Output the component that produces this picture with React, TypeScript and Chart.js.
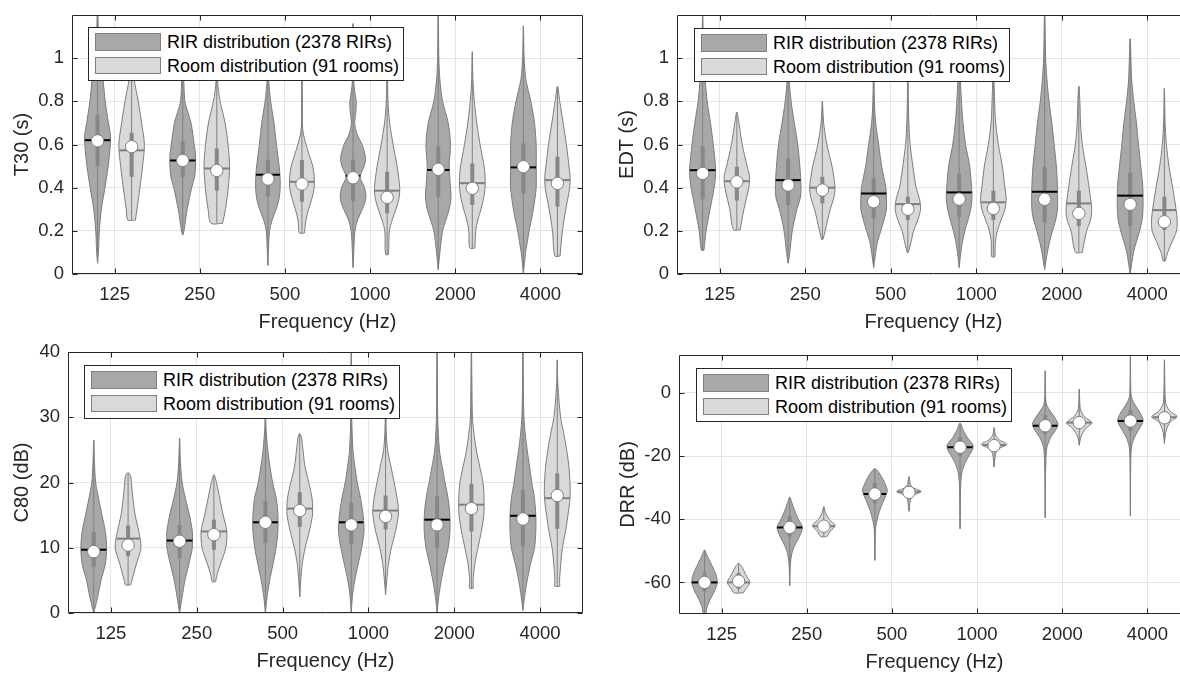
import React, { useEffect, useRef } from 'react';
import { Chart, registerables } from 'chart.js';

Chart.register(...registerables);

const FONT = "'Liberation Sans', Arial, Helvetica, sans-serif";

// ---------------- data ----------------
const freqLabels = ['125', '250', '500', '1000', '2000', '4000'];
const freqPositions = [1, 2, 3, 4, 5, 6];
const seriesLabels = ['RIR distribution (2378 RIRs)', 'Room distribution (91 rooms)'];

// Violin shapes: [value, relative half-width] from bottom to top
// ---- T30 ----
const t30Ticks = [0, 0.2, 0.4, 0.6, 0.8, 1];
const t30RirShapes = [
  [[0.05, 0], [0.1, 0.07], [0.2, 0.14], [0.3, 0.3], [0.4, 0.58], [0.5, 0.83], [0.6, 1.0], [0.65, 1.0], [0.7, 0.85], [0.8, 0.6], [0.9, 0.43], [1.0, 0.2], [1.1, 0.08], [1.25, 0]],
  [[0.18, 0], [0.2, 0.1], [0.25, 0.22], [0.3, 0.35], [0.4, 0.7], [0.45, 0.93], [0.5, 1.0], [0.55, 1.0], [0.6, 0.9], [0.7, 0.65], [0.75, 0.4], [0.8, 0.17], [0.9, 0.08], [1.0, 0]],
  [[0.04, 0], [0.1, 0.04], [0.2, 0.13], [0.25, 0.33], [0.3, 0.65], [0.35, 0.88], [0.4, 0.96], [0.45, 0.95], [0.5, 0.88], [0.6, 0.67], [0.7, 0.48], [0.8, 0.22], [0.9, 0.06], [1.0, 0]],
  [[0.03, 0], [0.1, 0.05], [0.2, 0.15], [0.25, 0.35], [0.3, 0.73], [0.35, 1.0], [0.4, 0.9], [0.45, 0.55], [0.5, 0.88], [0.54, 0.97], [0.6, 0.7], [0.65, 0.3], [0.7, 0.13], [0.75, 0.22], [0.8, 0.25], [0.85, 0.12], [0.9, 0.05], [1.16, 0]],
  [[0.02, 0], [0.1, 0.13], [0.2, 0.34], [0.25, 0.6], [0.3, 0.86], [0.35, 1.0], [0.4, 0.96], [0.5, 0.86], [0.6, 0.96], [0.7, 0.78], [0.8, 0.34], [0.9, 0.13], [1.0, 0.05], [1.25, 0]],
  [[0.0, 0], [0.1, 0.17], [0.15, 0.31], [0.2, 0.45], [0.3, 0.78], [0.4, 1.0], [0.5, 1.0], [0.6, 1.0], [0.7, 0.87], [0.8, 0.58], [0.9, 0.2], [1.0, 0.06], [1.15, 0]],
];
const t30RirMedian = [0.617, 0.526, 0.44, 0.446, 0.485, 0.497];
const t30RirMean = [0.62, 0.526, 0.46, 0.455, 0.482, 0.494];
const t30RirQ1 = [0.5, 0.448, 0.358, 0.338, 0.358, 0.373];
const t30RirQ3 = [0.736, 0.613, 0.53, 0.531, 0.59, 0.605];
const t30RoomShapes = [
  [[0.25, 0.3], [0.3, 0.42], [0.4, 0.65], [0.5, 0.86], [0.6, 1.0], [0.7, 0.78], [0.8, 0.52], [0.9, 0.2], [1.0, 0]],
  [[0.235, 0.45], [0.3, 0.68], [0.4, 0.9], [0.5, 1.0], [0.6, 0.88], [0.7, 0.65], [0.8, 0.26], [0.85, 0.13], [0.9, 0.05], [1.0, 0]],
  [[0.19, 0.2], [0.25, 0.31], [0.3, 0.52], [0.35, 0.78], [0.4, 0.96], [0.45, 0.96], [0.5, 0.84], [0.6, 0.32], [0.67, 0.06], [0.8, 0.03], [0.95, 0]],
  [[0.09, 0.12], [0.2, 0.18], [0.25, 0.4], [0.3, 0.69], [0.35, 0.93], [0.4, 0.99], [0.5, 0.78], [0.6, 0.47], [0.7, 0.2], [0.8, 0.07], [1.0, 0]],
  [[0.12, 0.2], [0.2, 0.27], [0.25, 0.43], [0.3, 0.68], [0.35, 0.88], [0.4, 1.0], [0.45, 1.0], [0.5, 0.92], [0.6, 0.61], [0.7, 0.35], [0.8, 0.16], [0.9, 0.05], [1.03, 0]],
  [[0.083, 0.2], [0.2, 0.39], [0.3, 0.65], [0.4, 0.96], [0.45, 0.99], [0.5, 0.9], [0.6, 0.7], [0.7, 0.44], [0.8, 0.18], [0.87, 0]],
];
const t30RoomMedian = [0.59, 0.48, 0.417, 0.355, 0.397, 0.42];
const t30RoomMean = [0.573, 0.489, 0.427, 0.386, 0.421, 0.435];
const t30RoomQ1 = [0.45, 0.386, 0.335, 0.281, 0.32, 0.312];
const t30RoomQ3 = [0.654, 0.582, 0.528, 0.474, 0.512, 0.543];

// ---- EDT ----
const edtTicks = [0, 0.2, 0.4, 0.6, 0.8, 1];
const edtRirShapes = [
  [[0.11, 0.1], [0.2, 0.27], [0.3, 0.58], [0.4, 0.9], [0.45, 1.0], [0.5, 1.0], [0.6, 0.83], [0.7, 0.61], [0.8, 0.35], [0.9, 0.2], [1.0, 0.08], [1.2, 0]],
  [[0.05, 0], [0.1, 0.13], [0.2, 0.32], [0.3, 0.68], [0.35, 0.94], [0.4, 1.0], [0.5, 0.91], [0.6, 0.75], [0.7, 0.48], [0.8, 0.23], [0.9, 0.08], [1.05, 0]],
  [[0.03, 0], [0.1, 0.16], [0.15, 0.3], [0.2, 0.56], [0.25, 0.8], [0.3, 1.0], [0.35, 1.0], [0.4, 0.95], [0.5, 0.62], [0.6, 0.39], [0.7, 0.16], [0.8, 0.06], [1.05, 0]],
  [[0.03, 0], [0.1, 0.13], [0.15, 0.26], [0.2, 0.45], [0.25, 0.69], [0.3, 0.9], [0.35, 1.0], [0.4, 0.97], [0.5, 0.82], [0.6, 0.5], [0.7, 0.3], [0.8, 0.18], [0.9, 0.1], [1.1, 0]],
  [[0.02, 0], [0.1, 0.21], [0.15, 0.39], [0.2, 0.61], [0.25, 0.86], [0.3, 1.0], [0.4, 1.0], [0.5, 0.91], [0.6, 0.74], [0.7, 0.56], [0.8, 0.34], [0.9, 0.18], [1.0, 0.08], [1.25, 0]],
  [[0.0, 0], [0.1, 0.26], [0.15, 0.49], [0.2, 0.74], [0.25, 0.93], [0.3, 1.0], [0.4, 0.99], [0.5, 0.83], [0.6, 0.65], [0.7, 0.49], [0.8, 0.28], [0.9, 0.12], [1.09, 0]],
];
const edtRirMedian = [0.466, 0.412, 0.335, 0.347, 0.346, 0.323];
const edtRirMean = [0.481, 0.435, 0.373, 0.378, 0.381, 0.363];
const edtRirQ1 = [0.346, 0.32, 0.258, 0.265, 0.238, 0.222];
const edtRirQ3 = [0.593, 0.535, 0.443, 0.466, 0.497, 0.469];
const edtRoomShapes = [
  [[0.205, 0.26], [0.3, 0.55], [0.4, 0.93], [0.45, 0.99], [0.5, 0.8], [0.6, 0.42], [0.7, 0.16], [0.75, 0]],
  [[0.16, 0.05], [0.2, 0.22], [0.3, 0.61], [0.35, 0.88], [0.4, 0.99], [0.5, 0.75], [0.6, 0.35], [0.7, 0.1], [0.8, 0]],
  [[0.1, 0.04], [0.15, 0.26], [0.2, 0.45], [0.25, 0.78], [0.3, 0.99], [0.35, 0.9], [0.4, 0.65], [0.5, 0.39], [0.6, 0.18], [0.7, 0.08], [0.8, 0.04], [1.0, 0]],
  [[0.08, 0.13], [0.15, 0.16], [0.2, 0.31], [0.25, 0.6], [0.3, 0.9], [0.35, 1.0], [0.4, 0.9], [0.5, 0.7], [0.6, 0.39], [0.7, 0.18], [0.8, 0.1], [0.9, 0.05], [1.0, 0]],
  [[0.1, 0.26], [0.2, 0.61], [0.25, 0.91], [0.3, 1.0], [0.4, 0.8], [0.5, 0.55], [0.6, 0.27], [0.7, 0.13], [0.8, 0.08], [0.87, 0]],
  [[0.06, 0.08], [0.1, 0.26], [0.15, 0.61], [0.2, 0.95], [0.25, 1.0], [0.3, 0.91], [0.4, 0.65], [0.5, 0.36], [0.6, 0.16], [0.7, 0.06], [0.86, 0]],
];
const edtRoomMedian = [0.427, 0.389, 0.3, 0.304, 0.281, 0.242];
const edtRoomMean = [0.43, 0.4, 0.324, 0.332, 0.327, 0.296];
const edtRoomQ1 = [0.34, 0.327, 0.25, 0.25, 0.222, 0.204];
const edtRoomQ3 = [0.497, 0.45, 0.358, 0.386, 0.386, 0.358];

// ---- C80 ----
const c80Ticks = [0, 10, 20, 30, 40];
const c80RirShapes = [
  [[0, 0], [1, 0.13], [2.5, 0.31], [5, 0.56], [7.5, 0.9], [10, 1.0], [12.5, 0.9], [15, 0.64], [17.5, 0.38], [20, 0.15], [23, 0.06], [26.5, 0]],
  [[0, 0], [2.5, 0.2], [5, 0.42], [7.5, 0.72], [10, 0.99], [11, 1.0], [12.5, 0.99], [15, 0.77], [17.5, 0.46], [20, 0.2], [23, 0.07], [26.8, 0]],
  [[0, 0], [2.5, 0.13], [5, 0.33], [7.5, 0.59], [10, 0.83], [12.5, 0.97], [15, 0.97], [17.5, 0.85], [20, 0.56], [22.5, 0.35], [25, 0.18], [28, 0.06], [31, 0]],
  [[0, 0], [2.5, 0.09], [5, 0.27], [7.5, 0.54], [10, 0.81], [12.5, 0.99], [15, 0.92], [17.5, 0.73], [20, 0.47], [22.5, 0.28], [25, 0.13], [30, 0.04], [42, 0]],
  [[0, 0], [2.5, 0.13], [5, 0.33], [7.5, 0.58], [10, 0.86], [12.5, 1.0], [15, 0.99], [17.5, 0.86], [20, 0.62], [22.5, 0.39], [25, 0.18], [30, 0.05], [42, 0]],
  [[0.4, 0], [2.5, 0.13], [5, 0.33], [7.5, 0.59], [10, 0.9], [12.5, 1.0], [15, 1.0], [17.5, 0.9], [20, 0.69], [22.5, 0.51], [25, 0.33], [27.5, 0.18], [30, 0.08], [35, 0.03], [42, 0]],
];
const c80RirMedian = [9.4, 11.0, 13.9, 13.5, 13.5, 14.4];
const c80RirMean = [9.7, 11.1, 13.9, 13.9, 14.3, 14.9];
const c80RirQ1 = [7.0, 8.4, 10.7, 10.5, 9.9, 10.2];
const c80RirQ3 = [12.4, 13.5, 17.1, 16.9, 17.9, 18.9];
const c80RoomShapes = [
  [[4.3, 0.2], [5, 0.3], [7.5, 0.64], [10, 1.0], [12.5, 0.83], [15, 0.55], [17.5, 0.38], [20, 0.26], [21, 0.2], [21.5, 0]],
  [[4.8, 0.13], [6, 0.26], [7.5, 0.51], [10, 0.92], [12.5, 1.0], [15, 0.72], [17.5, 0.46], [20, 0.2], [21.2, 0]],
  [[2.5, 0], [5, 0.08], [7.5, 0.19], [10, 0.42], [12.5, 0.74], [15, 0.99], [16, 1.0], [17.5, 0.96], [20, 0.7], [22.5, 0.4], [25, 0.25], [27, 0.12], [27.5, 0]],
  [[2.8, 0], [5, 0.09], [7.5, 0.22], [10, 0.45], [12.5, 0.77], [15, 0.99], [16, 0.99], [17.5, 0.9], [20, 0.67], [22.5, 0.41], [25, 0.15], [28, 0.05], [33, 0]],
  [[3.8, 0.15], [5, 0.13], [7.5, 0.26], [10, 0.51], [12.5, 0.77], [15, 0.96], [17.5, 0.98], [20, 0.9], [22.5, 0.64], [25, 0.38], [27.5, 0.2], [30, 0.08], [41, 0]],
  [[4.1, 0.2], [5, 0.18], [7.5, 0.27], [10, 0.4], [12.5, 0.64], [15, 0.83], [17.5, 0.99], [20, 0.99], [22.5, 0.9], [25, 0.73], [27.5, 0.51], [30, 0.26], [35, 0.05], [38.8, 0]],
];
const c80RoomMedian = [10.4, 12.0, 15.7, 14.8, 16.0, 18.0];
const c80RoomMean = [11.4, 12.5, 16.0, 15.7, 16.6, 17.6];
const c80RoomQ1 = [8.7, 9.7, 13.2, 12.8, 12.5, 12.9];
const c80RoomQ3 = [13.4, 14.3, 18.5, 18.0, 19.8, 21.4];

// ---- DRR ----
const drrTicks = [-60, -40, -20, 0];
const drrRirShapes = [
  [[-72, 0], [-70, 0.1], [-67.5, 0.22], [-65, 0.49], [-62.5, 0.81], [-60, 1.0], [-57.5, 0.89], [-55, 0.62], [-52.5, 0.32], [-51, 0.15], [-49.7, 0]],
  [[-61, 0], [-55, 0.04], [-52.5, 0.1], [-50, 0.22], [-47.5, 0.49], [-45, 0.81], [-42.5, 0.99], [-40, 0.68], [-37.5, 0.41], [-35, 0.19], [-33, 0]],
  [[-53, 0], [-45, 0.03], [-42, 0.08], [-40, 0.19], [-37.5, 0.35], [-35, 0.59], [-32.5, 0.85], [-31, 0.97], [-30, 0.92], [-27.5, 0.65], [-25, 0.27], [-24, 0]],
  [[-43, 0], [-30, 0.04], [-26, 0.11], [-24, 0.22], [-22, 0.41], [-20, 0.68], [-18, 0.97], [-16.5, 1.0], [-14, 0.54], [-12, 0.27], [-9.6, 0]],
  [[-39.5, 0], [-25, 0.03], [-18, 0.1], [-16, 0.23], [-14, 0.44], [-12, 0.78], [-10, 1.0], [-8, 0.78], [-6, 0.44], [-4, 0.13], [-2, 0.04], [7, 0]],
  [[-39, 0], [-25, 0.02], [-18, 0.06], [-16, 0.15], [-14, 0.33], [-12, 0.6], [-10, 0.9], [-8.5, 1.0], [-6, 0.72], [-4, 0.39], [-2, 0.13], [0, 0.04], [12, 0]],
];
const drrRirMedian = [-60, -42.6, -32, -17.2, -10.4, -8.9];
const drrRirMean = [-60, -42.6, -32, -17.2, -10.4, -8.9];
const drrRirQ1 = [-62.9, -45.5, -35, -20, -13, -12];
const drrRirQ3 = [-56.9, -39, -28.5, -14, -7, -5.5];
const drrRoomShapes = [
  [[-63.3, 0.36], [-62, 0.57], [-60, 0.88], [-57.5, 0.55], [-55, 0.25], [-54, 0]],
  [[-45.5, 0.24], [-44, 0.47], [-42, 0.88], [-40, 0.41], [-38, 0.14], [-36, 0]],
  [[-37.5, 0], [-36, 0.04], [-34, 0.1], [-32.5, 0.3], [-31.2, 0.95], [-30, 0.3], [-29, 0.12], [-27.5, 0.05], [-26.5, 0]],
  [[-23.5, 0], [-20, 0.08], [-18.5, 0.2], [-17.5, 0.45], [-16.3, 1.0], [-15, 0.45], [-14, 0.2], [-13, 0.08], [-11, 0]],
  [[-16.6, 0], [-14, 0.12], [-12.5, 0.3], [-11, 0.56], [-9.5, 1.0], [-8, 0.56], [-7, 0.3], [-5, 0.08], [1.2, 0]],
  [[-16, 0], [-12.5, 0.1], [-10.5, 0.26], [-9, 0.5], [-7.5, 1.0], [-6, 0.5], [-5, 0.3], [-3, 0.08], [10.5, 0]],
];
const drrRoomMedian = [-59.6, -42.2, -31.5, -16.7, -9.4, -7.9];
const drrRoomMean = [-60, -42.2, -31.3, -16.5, -9.4, -7.7];
const drrRoomQ1 = [-62, -43.5, -32, -17.8, -10.5, -8.8];
const drrRoomQ3 = [-57, -40.5, -30.5, -15.5, -8.5, -6.8];

// ---------------- styles ----------------
const RIR_FILL = '#a8a8a8';
const ROOM_FILL = '#d9d9d9';
const EDGE = '#7c7c7c';
const WHISKER = '#808080';
const BOX = '#878787';
const GRID = '#e3e3e3';
const AXIS = '#262626';
const HALF = 0.15; // max half width of a violin (x units)
const OFFSET = 0.2; // violin offset from the frequency position

type Shape = number[][];
interface SeriesDef { shapes: Shape[]; median: number[]; mean: number[]; q1: number[]; q3: number[] }
interface PanelDef {
  yTitle: string; yMin: number; yMax: number; yTicks: number[];
  rir: SeriesDef; room: SeriesDef;
  layout: { left: number; top: number; w: number; h: number; padTop: number; padRight: number; yW: number; yTitlePad: number; legendLeft: number; legendTop: number };
}

const panels: PanelDef[] = [
  {
    yTitle: 'T30 (s)', yMin: 0, yMax: 1.2, yTicks: t30Ticks,
    rir: { shapes: t30RirShapes, median: t30RirMedian, mean: t30RirMean, q1: t30RirQ1, q3: t30RirQ3 },
    room: { shapes: t30RoomShapes, median: t30RoomMedian, mean: t30RoomMean, q1: t30RoomQ1, q3: t30RoomQ3 },
    layout: { left: 0, top: 0, w: 600, h: 334, padTop: 15, padRight: 17, yW: 72, yTitlePad: 10, legendLeft: 88, legendTop: 27 },
  },
  {
    yTitle: 'EDT (s)', yMin: 0, yMax: 1.2, yTicks: edtTicks,
    rir: { shapes: edtRirShapes, median: edtRirMedian, mean: edtRirMean, q1: edtRirQ1, q3: edtRirQ3 },
    room: { shapes: edtRoomShapes, median: edtRoomMedian, mean: edtRoomMean, q1: edtRoomQ1, q3: edtRoomQ3 },
    layout: { left: 600, top: 0, w: 600, h: 334, padTop: 15, padRight: 10, yW: 77, yTitlePad: 15, legendLeft: 694, legendTop: 28 },
  },
  {
    yTitle: 'C80 (dB)', yMin: 0, yMax: 40, yTicks: c80Ticks,
    rir: { shapes: c80RirShapes, median: c80RirMedian, mean: c80RirMean, q1: c80RirQ1, q3: c80RirQ3 },
    room: { shapes: c80RoomShapes, median: c80RoomMedian, mean: c80RoomMean, q1: c80RoomQ1, q3: c80RoomQ3 },
    layout: { left: 0, top: 340, w: 600, h: 333, padTop: 12, padRight: 17, yW: 68, yTitlePad: 10, legendLeft: 84, legendTop: 365 },
  },
  {
    yTitle: 'DRR (dB)', yMin: -70, yMax: 12, yTicks: drrTicks,
    rir: { shapes: drrRirShapes, median: drrRirMedian, mean: drrRirMean, q1: drrRirQ1, q3: drrRirQ3 },
    room: { shapes: drrRoomShapes, median: drrRoomMedian, mean: drrRoomMean, q1: drrRoomQ1, q3: drrRoomQ3 },
    layout: { left: 600, top: 340, w: 600, h: 334, padTop: 15, padRight: 10, yW: 79, yTitlePad: 16, legendLeft: 696, legendTop: 368 },
  },
];

// ---------------- helpers ----------------
function violinPoints(center: number, shape: Shape) {
  const right = shape.map(([v, w]) => ({ x: center + w * HALF, y: v }));
  const leftAll = shape.slice().reverse().map(([v, w]) => ({ x: center - w * HALF, y: v }));
  const topZero = shape[shape.length - 1][1] === 0;
  const botZero = shape[0][1] === 0;
  const pts = [...right, ...(topZero ? leftAll.slice(1) : leftAll)];
  if (!botZero) pts.push(right[0]);
  return pts;
}

function widthAt(shape: Shape, v: number) {
  for (let i = 0; i < shape.length - 1; i++) {
    const [v0, w0] = shape[i];
    const [v1, w1] = shape[i + 1];
    if (v >= v0 && v <= v1) return w0 + ((w1 - w0) * (v - v0)) / (v1 - v0);
  }
  return 0;
}

const boxPlugin = {
  id: 'matlabBox',
  afterDatasetsDraw(chart: any) {
    const { ctx, chartArea: a, scales } = chart;
    const L = 5;
    ctx.save();
    ctx.strokeStyle = AXIS;
    ctx.lineWidth = 1;
    const l = Math.round(a.left) + 0.5, r = Math.round(a.right) - 0.5;
    const t = Math.round(a.top) + 0.5, b = Math.round(a.bottom) - 0.5;
    ctx.beginPath();
    ctx.rect(l, t, r - l, b - t);
    scales.x.ticks.forEach((tk: any) => {
      const px = Math.round(scales.x.getPixelForValue(tk.value)) + 0.5;
      ctx.moveTo(px, b); ctx.lineTo(px, b - L);
      ctx.moveTo(px, t); ctx.lineTo(px, t + L);
    });
    scales.y.ticks.forEach((tk: any) => {
      const py = Math.round(scales.y.getPixelForValue(tk.value)) + 0.5;
      ctx.moveTo(l, py); ctx.lineTo(l + L, py);
      ctx.moveTo(r, py); ctx.lineTo(r - L, py);
    });
    ctx.stroke();
    ctx.restore();
  },
};

function buildConfig(p: PanelDef): any {
  const datasets: any[] = [];
  const series = [
    { def: p.rir, off: -OFFSET, fill: RIR_FILL, meanColor: '#000000' },
    { def: p.room, off: OFFSET, fill: ROOM_FILL, meanColor: '#7f7f7f' },
  ];
  series.forEach((s) => {
    s.def.shapes.forEach((shape, i) => {
      const c = freqPositions[i] + s.off;
      datasets.push({
        data: violinPoints(c, shape), borderColor: EDGE, borderWidth: 1, backgroundColor: s.fill,
        fill: 'shape', tension: 0.3, pointRadius: 0, order: 5,
      });
      datasets.push({
        data: [{ x: c, y: shape[0][0] }, { x: c, y: shape[shape.length - 1][0] }],
        borderColor: WHISKER, borderWidth: 1, pointRadius: 0, fill: false, order: 4,
      });
      datasets.push({
        data: [{ x: c, y: s.def.q1[i] }, { x: c, y: s.def.q3[i] }],
        borderColor: BOX, borderWidth: 4, pointRadius: 0, fill: false, order: 3,
      });
      const w = widthAt(shape, s.def.mean[i]) * HALF;
      datasets.push({
        data: [{ x: c - w, y: s.def.mean[i] }, { x: c + w, y: s.def.mean[i] }],
        borderColor: s.meanColor, borderWidth: 2, pointRadius: 0, fill: false, order: 2,
      });
    });
    datasets.push({
      data: s.def.median.map((m, i) => ({ x: freqPositions[i] + s.off, y: m })),
      showLine: false, pointRadius: 6.2, pointBackgroundColor: '#ffffff', pointBorderColor: '#7f7f7f',
      pointBorderWidth: 1, order: 1,
    });
  });

  const L = p.layout;
  return {
    type: 'line',
    data: { datasets },
    plugins: [boxPlugin],
    options: {
      responsive: false,
      animation: false,
      events: [],
      layout: { padding: { left: 0, top: L.padTop, right: L.padRight, bottom: 0 } },
      plugins: { legend: { display: false }, tooltip: { enabled: false } },
      scales: {
        x: {
          type: 'linear', min: 0.5, max: 6.5,
          afterBuildTicks: (sc: any) => { sc.ticks = freqPositions.map((v) => ({ value: v })); },
          afterFit: (sc: any) => { sc.height = 60; sc.paddingLeft = 0; sc.paddingRight = 0; sc.paddingTop = 0; sc.paddingBottom = 0; },
          ticks: {
            callback: (v: number) => freqLabels[freqPositions.indexOf(Math.round(v))],
            font: { size: 18.5, family: FONT }, color: AXIS, padding: 10, autoSkip: false, maxRotation: 0,
          },
          grid: { color: GRID, drawTicks: false },
          border: { display: false },
          title: { display: true, text: 'Frequency (Hz)', font: { size: 20, family: FONT }, color: AXIS, padding: { top: 0, bottom: 0 } },
        },
        y: {
          type: 'linear', min: p.yMin, max: p.yMax,
          afterBuildTicks: (sc: any) => { sc.ticks = p.yTicks.map((v) => ({ value: v })); },
          afterFit: (sc: any) => { sc.width = L.yW; sc.paddingLeft = 0; sc.paddingRight = 0; sc.paddingTop = 0; sc.paddingBottom = 0; },
          ticks: {
            callback: (v: number) => String(v),
            font: { size: 18.5, family: FONT }, color: AXIS, padding: 8, autoSkip: false,
          },
          grid: { color: GRID, drawTicks: false },
          border: { display: false },
          title: { display: true, text: p.yTitle, font: { size: 20, family: FONT }, color: AXIS, padding: { top: L.yTitlePad, bottom: 0 } },
        },
      },
    },
  };
}

function Legend({ left, top }: { left: number; top: number }) {
  return (
    <div style={{ position: 'absolute', left, top, width: 316, height: 54, boxSizing: 'border-box', border: `1px solid ${AXIS}`, background: '#ffffff' }}>
      {seriesLabels.map((lab, i) => (
        <React.Fragment key={lab}>
          <div style={{ position: 'absolute', left: 5.7, top: 5.4 + i * 23.3, width: 66.7, height: 17.6, boxSizing: 'border-box', border: '1px solid #7f7f7f', background: i === 0 ? RIR_FILL : ROOM_FILL }} />
          <div style={{ position: 'absolute', left: 78, top: 3.2 + i * 23.4, height: 22, lineHeight: '22px', fontSize: 18, fontFamily: FONT, color: '#000000', whiteSpace: 'nowrap' }}>{lab}</div>
        </React.Fragment>
      ))}
    </div>
  );
}

function Panel({ def }: { def: PanelDef }) {
  const ref = useRef<HTMLCanvasElement>(null);
  useEffect(() => {
    const chart = new Chart(ref.current as HTMLCanvasElement, buildConfig(def));
    return () => chart.destroy();
  }, [def]);
  const L = def.layout;
  return (
    <>
      <canvas ref={ref} width={L.w} height={L.h} style={{ position: 'absolute', left: L.left, top: L.top, width: L.w, height: L.h }} />
      <Legend left={L.legendLeft} top={L.legendTop} />
    </>
  );
}

export default function App() {
  return (
    <div style={{ position: 'fixed', left: 0, top: 0, width: 1180, height: 673, overflow: 'hidden', background: '#ffffff', fontFamily: FONT }}>
      {panels.map((p) => (
        <Panel key={p.yTitle} def={p} />
      ))}
    </div>
  );
}
